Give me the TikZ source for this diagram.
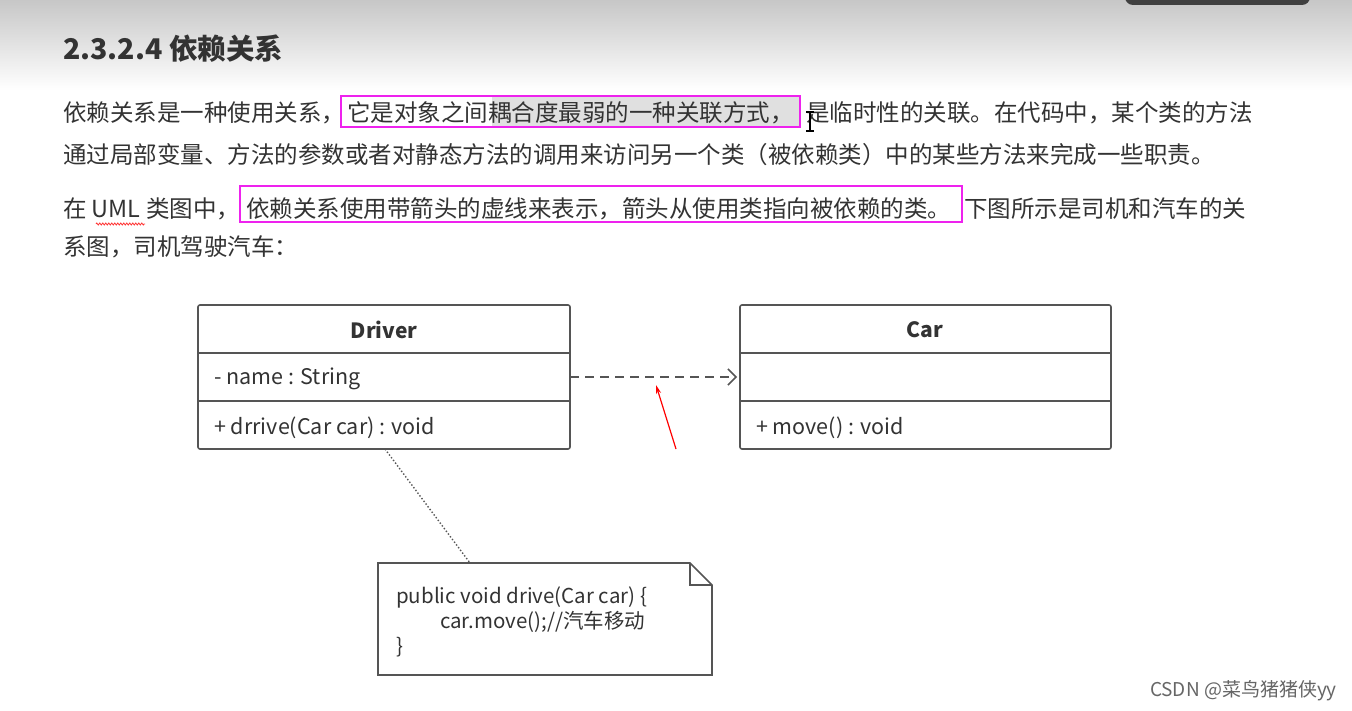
\documentclass[tikz,border=0pt]{standalone}
\usepackage{fontspec}
\setmainfont{Noto Sans CJK SC}
\usetikzlibrary{arrows.meta,decorations.pathmorphing}
\definecolor{txt}{HTML}{333333}
\definecolor{mag}{HTML}{EE22EE}
\definecolor{ln}{HTML}{555555}
\begin{document}
\begin{tikzpicture}[x=1pt,y=-1pt,
  body/.style={anchor=west,inner sep=0pt,font=\fontsize{23.5}{26}\selectfont,text=txt},
  hl/.style={draw=mag,line width=2.5pt},
  cls/.style={draw=ln,line width=1.6pt,rounded corners=2pt},
  row/.style={draw=ln,line width=1.6pt},
  lbl/.style={inner sep=0pt,font=\fontsize{21.5}{24}\selectfont,text=txt},
  note/.style={inner sep=0pt,anchor=west,font=\fontsize{20.5}{23}\selectfont,text=txt},
  ttl/.style={inner sep=0pt,font=\fontsize{21}{24}\selectfont\bfseries,text=txt}]
\useasboundingbox (0,0) rectangle (1352,711);
\fill[white] (0,0) rectangle (1352,711);
\shade[top color=black!22,bottom color=white] (0,0) rectangle (1352,90);
\fill[black!75,rounded corners=8pt] (1125,-15) rectangle (1310,5);
% title
\node[anchor=west,inner sep=0pt,font=\fontsize{28.5}{31}\selectfont\bfseries,text=txt] (title) at (63,49) {2.3.2.4 依赖关系};
% paragraph 1
\fill[black!12] (492,97) rectangle (800,128);
\node[body] (p1a) at (63,113) {依赖关系是一种使用关系，};
\node[body] (p1b) at (347,113) {它是对象之间耦合度最弱的一种关联方式，};
\node[body] (p1c) at (806,113) {是临时性的关联。在代码中，某个类的方法};
\draw[hl] (341,96) rectangle (800,127);
\draw[black,line width=1.2pt] (810,112) -- (810,131) (806,112)--(814,112) (806,131)--(814,131);
\node[body] (p2) at (63,155) {通过局部变量、方法的参数或者对静态方法的调用来访问另一个类（被依赖类）中的某些方法来完成一些职责。};
% paragraph 2
\node[body] (p3a) at (63,209) {在 UML 类图中，};
\draw[red!80,decorate,decoration={zigzag,amplitude=1pt,segment length=3pt},line width=0.8pt] (96,224) -- (145,224);
\node[body] (p3b) at (246,209) {依赖关系使用带箭头的虚线来表示，箭头从使用类指向被依赖的类。};
\node[body] (p3c) at (964,209) {下图所示是司机和汽车的关};
\draw[hl] (240,186) rectangle (962,222);
\node[body] (p4) at (63,247) {系图，司机驾驶汽车：};
% Driver
\draw[cls] (198,305) rectangle (570,449);
\draw[row] (198,353) -- (570,353) (198,401) -- (570,401);
\node[ttl] (dn) at (384,330) {Driver};
\node[lbl,anchor=west] (da) at (214,379) {- name : String};
\node[lbl,anchor=west] (dm) at (214,428) {+ drrive(Car car) : void};
\coordinate (dr) at (570,377);
\coordinate (db) at (385,449);
% Car
\draw[cls] (740,305) rectangle (1111,449);
\draw[row] (740,353) -- (1111,353) (740,401) -- (1111,401);
\node[ttl] (cn) at (925,330) {Car};
\node[lbl,anchor=west] (cm) at (756,428) {+ move() : void};
\coordinate (cl) at (737,377);
\draw[ln,line width=1.5pt,dash pattern=on 9pt off 6pt,-{Straight Barb[length=8pt,width=16pt]}] (dr) -- (cl);
% red arrow
\coordinate (ra) at (676,449);
\coordinate (rb) at (656,385);
\draw[red,line width=1.2pt,-{Stealth[length=9pt,width=5pt]}] (ra) -- (rb);
% note
\draw[ln,line width=1.6pt,fill=white] (378,563) -- (690,563) -- (712,585) -- (712,675) -- (378,675) -- cycle;
\draw[ln,line width=1.6pt] (690,563) -- (690,585) -- (712,585);
\coordinate (nt) at (470,563);
\draw[ln,line width=1.4pt,dotted] (db) -- (nt);
\node[note] (n1) at (396,597) {public void drive(Car car) \{};
\node[note] (n2) at (440,622) {car.move();//汽车移动};
\node[note] (n3) at (396,647) {\}};
% watermark
\node[anchor=east,inner sep=0pt,font=\fontsize{19}{21}\selectfont,text=black!60] (wm) at (1337,691) {CSDN @菜鸟猪猪侠yy};
\end{tikzpicture}
\end{document}
